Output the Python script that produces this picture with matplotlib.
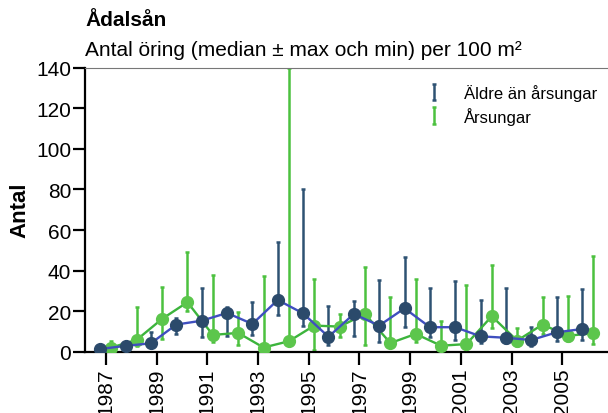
import matplotlib
matplotlib.use("Agg")
import matplotlib.pyplot as plt
import numpy as np

plt.rcParams['font.family'] = ['Liberation Sans', 'DejaVu Sans']

years = list(range(1987, 2007))
tick_years = list(range(1987, 2006, 2))

older_med = [1.5, 3, 4.3, 13.5, 15.4, 19.2, 13.8, 25.6, 19, 7.5,
             18.7, 13, 21.5, 12.2, 12.2, 7.7, 7, 5.9, 9.7, 11.3]
older_max = [2, 4, 10, 16.6, 31.7, 22.3, 24.5, 54.3, 80, 22.7,
             25.3, 35.5, 46.6, 31.4, 34.8, 25.8, 31.4, 12.5, 27, 31]
older_min = [0.5, 2, 3.5, 8.9, 7.4, 8, 8.4, 18.2, 13, 3.4,
             8, 4.8, 12.5, 7.2, 5.9, 4.4, 4.4, 3.1, 5.6, 6]

young_med = [2.2, 6, 16.3, 24.5, 8.4, 9.4, 2.2, 5.3, 13, 12.5,
             18.7, 4.4, 8.9, 3.1, 3.9, 17.6, 5.6, 13.5, 8, 9.2]
young_max = [5.6, 22, 32.2, 49.4, 38, 19.5, 37.6, 140, 36, 18.7,
             41.7, 27, 36, 15.1, 33, 42.8, 11.7, 27, 27.7, 47]
young_min = [0.3, 3, 6.4, 20, 5, 3.4, 1.2, 4, 1, 7.4,
             3.4, 2.3, 4.8, 1.5, 0.6, 11.7, 3.1, 8.9, 5.6, 3.9]

labels = ['Äldre än årsungar', 'Årsungar']

fig = plt.figure(figsize=(6.08, 4.14), dpi=100)
ax = fig.add_axes([85/608, 1-353/414, 1-85/608+0.002, (353-68.5)/414])

yrs = np.array(years, dtype=float)
xo = yrs - 0.22
xy = yrs + 0.22

om = np.array(older_med); oM = np.array(older_max); on = np.array(older_min)
ym = np.array(young_med); yM = np.array(young_max); yn = np.array(young_min)

c_old_err = '#2e5273'
c_old_mk = '#2b4a6b'
c_old_line = '#3f4fbf'
c_y_err = '#4cc13f'
c_y_mk = '#5cc64c'
c_y_line = '#3cb43c'

ax.errorbar(xy, ym, yerr=[ym-yn, yM-ym], fmt='none', ecolor=c_y_err,
            elinewidth=1.8, capsize=1.5, capthick=1.8, label=labels[1], zorder=2)
ax.errorbar(xo, om, yerr=[om-on, oM-om], fmt='none', ecolor=c_old_err,
            elinewidth=1.8, capsize=1.5, capthick=1.8, label=labels[0], zorder=2)

ax.plot(xy, ym, color=c_y_line, lw=1.7, zorder=3)
ax.plot(xy, ym, 'o', color=c_y_mk, ms=8.5, zorder=4)
ax.plot(xo, om, color=c_old_line, lw=1.7, zorder=5)
ax.plot(xo, om, 'o', color=c_old_mk, ms=8.5, zorder=6)

ax.set_xlim(1986.18, 2006.85)
ax.set_ylim(0, 140)
ax.set_yticks(range(0, 141, 20))
ax.set_xticks(tick_years)
ax.set_xticklabels([str(y) for y in tick_years], rotation=90)

for s in ['left', 'bottom']:
    ax.spines[s].set_linewidth(1.6)
    ax.spines[s].set_color('black')
ax.spines['top'].set_linewidth(0.8)
ax.spines['top'].set_color('#777777')
ax.spines['right'].set_visible(False)

ax.tick_params(axis='y', direction='out', length=9, width=1.6, labelsize=15, pad=1)
ax.tick_params(axis='x', direction='out', length=9, width=1.6, labelsize=15, pad=2)

ax.set_ylabel('Antal', fontsize=16, fontweight='bold', labelpad=4)

h, l = ax.get_legend_handles_labels()
order = [1, 0]
leg = ax.legend([h[i] for i in order], [l[i] for i in order], loc='upper right',
                bbox_to_anchor=(1.005, 0.995), frameon=False, fontsize=12,
                handlelength=1.0, handletextpad=1.3, labelspacing=0.35)

fig.text(85/608, 1-20/414, 'Ådalsån', fontsize=15, fontweight='bold', va='center', ha='left')
fig.text(85/608, 1-50/414, 'Antal öring (median ± max och min) per 100 m²', fontsize=15,
         va='center', ha='left')

fig.savefig('out.png', dpi=100)
